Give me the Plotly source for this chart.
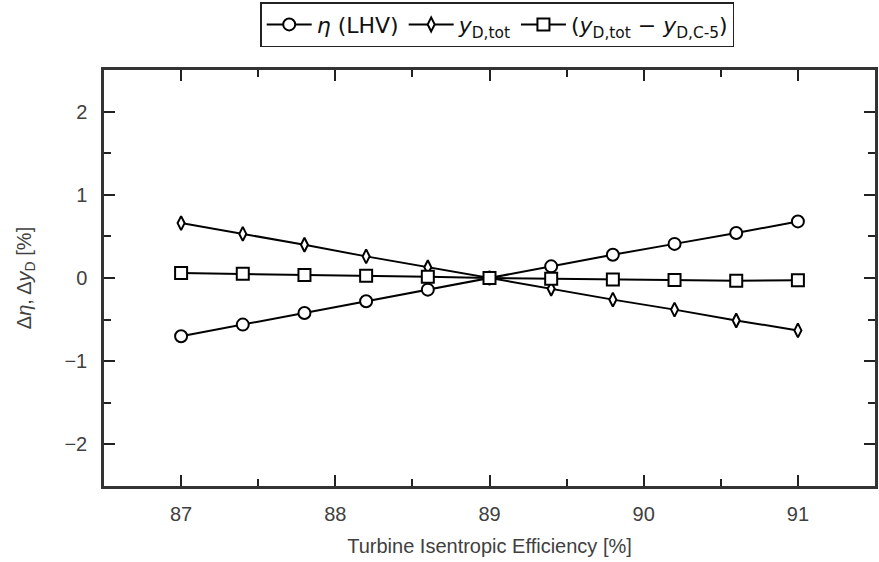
import plotly.graph_objects as go

x_vals = [87.0, 87.4, 87.8, 88.2, 88.6, 89.0, 89.4, 89.8, 90.2, 90.6, 91.0]
eta_lhv = [-0.70, -0.56, -0.42, -0.28, -0.14, 0.0, 0.14, 0.28, 0.41, 0.54, 0.68]
yd_tot = [0.66, 0.53, 0.40, 0.26, 0.13, 0.0, -0.13, -0.26, -0.38, -0.51, -0.63]
yd_diff = [0.06, 0.05, 0.037, 0.027, 0.014, 0.0, -0.008, -0.018, -0.025, -0.033, -0.026]

names = ["<i>η</i> (LHV)",
         "<i>y</i><sub>D,tot</sub>",
         "(<i>y</i><sub>D,tot</sub> − <i>y</i><sub>D,C-5</sub>)"]
x_title = "Turbine Isentropic Efficiency [%]"
y_title = "Δ<i>η</i>, Δ<i>y</i><sub>D</sub> [%]"
x_ticks = [87, 88, 89, 90, 91]
y_ticks = [-2, -1, 0, 1, 2]

FONT = "Liberation Sans"
TXT = "#404040"
FS = 20

fig = go.Figure()
series = [(eta_lhv, "circle", 12), (yd_tot, "diamond-tall", 10), (yd_diff, "square", 12)]
for (vals, sym, sz), nm in zip(series, names):
    fig.add_trace(go.Scatter(
        x=x_vals, y=vals, name=nm, mode="lines+markers",
        line=dict(color="black", width=2),
        marker=dict(symbol=sym, size=sz, color="white",
                    line=dict(color="black", width=2)),
    ))

axis_common = dict(
    showline=True, linewidth=2.5, linecolor="#333333", mirror="allticks",
    ticks="inside", ticklen=11, tickwidth=1.5, tickcolor="#222222",
    showgrid=False, zeroline=False,
    tickfont=dict(family=FONT, size=FS, color=TXT),
    minor=dict(ticks="inside", ticklen=7, tickwidth=1.5, tickcolor="#222222", dtick=0.5, showgrid=False),
)

fig.update_layout(
    width=879, height=562,
    margin=dict(l=104, r=1, t=70, b=76),
    paper_bgcolor="white", plot_bgcolor="white",
    font=dict(family=FONT, size=FS, color=TXT),
    showlegend=True,
    legend=dict(orientation="h", x=0.51, xanchor="center", y=1.055, yanchor="bottom",
                bordercolor="#222222", borderwidth=1.5, bgcolor="white",
                font=dict(family="DejaVu Sans", size=22, color="#111111"),
                itemwidth=45, tracegroupgap=0),
    xaxis=dict(range=[86.5, 91.5], tickvals=x_ticks, ticklabelstandoff=8,
               title=dict(text=x_title, font=dict(family=FONT, size=FS, color=TXT), standoff=16),
               **axis_common),
    yaxis=dict(range=[-2.5, 2.5], tickvals=y_ticks, ticklabelstandoff=10,
               ticktext=[("−" + str(abs(v))) if v < 0 else str(v) for v in y_ticks],
               title=dict(text=y_title, font=dict(family=FONT, size=FS, color=TXT), standoff=28),
               **axis_common),
)

fig.write_html("out.html")
